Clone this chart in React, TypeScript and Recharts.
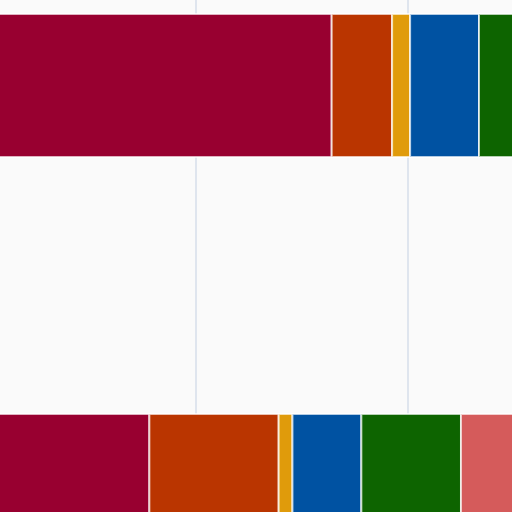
import { BarChart, Bar, XAxis, YAxis, CartesianGrid } from 'recharts';

const categories = ['A', 'B'];
const seriesKeys = ['s1', 's2', 's3', 's4', 's5', 's6'];
const s1 = [32.8, 15.6];
const s2 = [5.7, 12.2];
const s3 = [1.7, 1.3];
const s4 = [6.5, 6.5];
const s5 = [9.0, 9.4];
const s6 = [6.0, 8.0];
const xTicks = [0, 20, 40, 60];

const COLORS: Record<string, string> = {
  s1: '#980030',
  s2: '#BA3500',
  s3: '#E09B0B',
  s4: '#0052A2',
  s5: '#0D6400',
  s6: '#D55B5B'
};

const data = categories.map((name, i) => ({
  name,
  s1: s1[i],
  s2: s2[i],
  s3: s3[i],
  s4: s4[i],
  s5: s5[i],
  s6: s6[i]
}));

export default function App() {
  return (
    <div
      style={{
        position: 'fixed',
        left: 0,
        top: 0,
        width: 512,
        height: 512,
        overflow: 'hidden',
        background: '#fafafa'
      }}
    >
      <div style={{ position: 'absolute', left: -16, top: -115 }}>
        <BarChart
          width={654}
          height={800}
          data={data}
          layout="vertical"
          margin={{ top: 0, right: 0, bottom: 0, left: 0 }}
          barSize={143}
        >
          <CartesianGrid horizontal={false} stroke="#dfe5ee" strokeWidth={2} />
          <XAxis type="number" domain={[0, 60]} ticks={xTicks} hide />
          <YAxis type="category" dataKey="name" hide />
          {seriesKeys.map((key) => (
            <Bar
              key={key}
              dataKey={key}
              stackId="a"
              fill={COLORS[key]}
              stroke="#ffffff"
              strokeOpacity={0.7}
              strokeWidth={2}
              isAnimationActive={false}
            />
          ))}
        </BarChart>
      </div>
    </div>
  );
}
